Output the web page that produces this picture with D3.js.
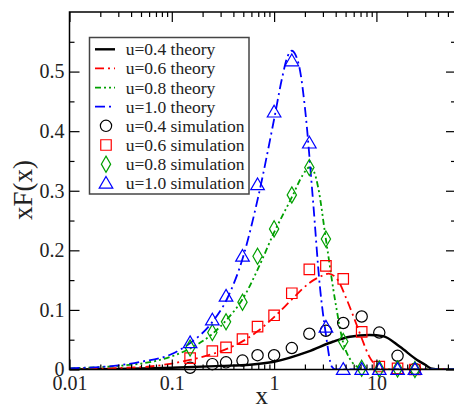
<!DOCTYPE html>
<html>
<head>
<meta charset="utf-8">
<script src="https://cdn.jsdelivr.net/npm/d3@7"></script>
<style>
  body { margin: 0; background: #fff; }
  svg { display: block; }
  text { font-family: "Liberation Serif", "Times New Roman", serif; fill: #222; }
</style>
</head>
<body>
<div id="container"><svg id="drawing_area" width="454" height="409"></svg></div>
<script>
// theory curves, [x, xF(x)]
var theory04 = [[0.01, 0.0], [0.1, 0.003], [0.3, 0.006], [0.58, 0.008], [1.0, 0.013], [2.15, 0.03], [3.8, 0.047], [5.5, 0.055], [8.6, 0.058], [11.6, 0.056], [17, 0.038], [25, 0.016], [30, 0.008], [34, 0.002], [45, 0.0], [60, 0.0]]
var theory06 = [[0.01, 0.001], [0.05, 0.004], [0.1, 0.01], [0.15, 0.016], [0.25, 0.026], [0.35, 0.035], [0.5, 0.048], [0.7, 0.065], [1.0, 0.088], [1.5, 0.118], [2.2, 0.145], [3.0, 0.158], [3.4, 0.161], [4.2, 0.15], [5.0, 0.122], [6.0, 0.088], [7.2, 0.052], [8.5, 0.022], [10, 0.006], [11.5, 0.001], [13, 0.0], [60, 0.0]]
var theory08 = [[0.01, 0.002], [0.05, 0.01], [0.1, 0.022], [0.15, 0.035], [0.25, 0.06], [0.35, 0.085], [0.5, 0.12], [0.7, 0.17], [1.0, 0.23], [1.5, 0.29], [1.9, 0.326], [2.2, 0.339], [2.45, 0.332], [2.7, 0.305], [3.2, 0.22], [4.0, 0.11], [4.7, 0.047], [5.5, 0.018], [7.0, 0.002], [8.0, 0.0], [60, 0.0]]
var theory10 = [[0.01, 0.002], [0.03, 0.007], [0.05, 0.013], [0.1, 0.026], [0.15, 0.044], [0.25, 0.08], [0.35, 0.12], [0.5, 0.19], [0.7, 0.29], [1.0, 0.42], [1.2, 0.49], [1.35, 0.525], [1.49, 0.535], [1.62, 0.528], [1.8, 0.5], [2.0, 0.44], [2.4, 0.284], [2.8, 0.14], [3.2, 0.06], [3.66, 0.005], [4.0, 0.0], [60, 0.0]]

// simulation points
var simX = [0.151, 0.249, 0.339, 0.491, 0.689, 1.0, 1.49, 2.21, 3.21, 4.74, 7.18, 10.67, 16.1, 23.8]
var sim04 = [0.003, 0.009, 0.012, 0.015, 0.024, 0.024, 0.036, 0.060, 0.065, 0.078, 0.089, 0.062, 0.023, 0.001]
var sim06 = [0.019, 0.031, 0.037, 0.051, 0.072, 0.091, 0.128, 0.168, 0.174, 0.152, 0.063, 0.005, 0.002, 0.0]
var sim08 = [0.036, 0.062, 0.080, 0.113, 0.19, 0.236, 0.293, 0.339, 0.219, 0.047, 0.002, 0.001, 0.001, 0.0]
var sim10 = [0.045, 0.083, 0.123, 0.19, 0.31, 0.432, 0.518, 0.38, 0.071, 0.0, 0.0, 0.0, 0.0, 0.0]

var yTicks = [0, 0.1, 0.2, 0.3, 0.4, 0.5]
var yMinor = [0.05, 0.15, 0.25, 0.35, 0.45, 0.55]
var xMajor = [0.01, 0.1, 1, 10]
var xTickLabels = ["0.01", "0.1", "1", "10"]

var legendNames = ["u=0.4 theory", "u=0.6 theory", "u=0.8 theory", "u=1.0 theory",
    "u=0.4 simulation", "u=0.6 simulation", "u=0.8 simulation", "u=1.0 simulation"]

function draw() {
    var svg = d3.select("#drawing_area")
    var left = 69.5, top = 12, bottom = 369.5, decade = 102.3
    var serif = '"Liberation Serif", "Times New Roman", serif'

    var x = d3.scaleLog().domain([0.01, 60]).range([left, left + Math.log10(6000) * decade])
    var y = d3.scaleLinear().domain([0, 0.6]).range([bottom, top])
    var right = x.range()[1]

    // minor ticks on log axis: 2..9 in each decade
    var xMinor = []
    for (var d = 0.01; d < 60; d *= 10) {
        for (var k = 2; k <= 9; k++) {
            if (k * d <= 60) xMinor.push(k * d)
        }
    }

    var styles = [
        {color: "#000000", dash: null, width: 2.4, data: theory04, sim: sim04, sym: "circle"},
        {color: "#ff0000", dash: "9,4,2,4", width: 1.8, data: theory06, sim: sim06, sym: "square"},
        {color: "#00a000", dash: "6,3,2,3,2,3", width: 1.8, data: theory08, sim: sim08, sym: "diamond"},
        {color: "#0000ff", dash: "10,4,2,4", width: 1.8, data: theory10, sim: sim10, sym: "triangle"}
    ]

    var symbolPath = {
        circle: d3.symbol().type(d3.symbolCircle).size(100),
        square: d3.symbol().type(d3.symbolSquare).size(110),
        diamond: d3.symbol().type(d3.symbolDiamond).size(75),
        triangle: d3.symbol().type(d3.symbolTriangle).size(80)
    }

    var plot = svg.append("g")
    plot.append("clipPath").attr("id", "clip")
        .append("rect").attr("x", left).attr("y", top)
        .attr("width", right - left).attr("height", bottom - top)

    // theory lines
    var line = d3.line()
        .x(function(p) { return x(p[0]) })
        .y(function(p) { return y(p[1]) })
        .curve(d3.curveMonotoneX)

    styles.forEach(function(s) {
        plot.append("path")
            .attr("d", line(s.data))
            .attr("fill", "none")
            .attr("stroke", s.color)
            .attr("stroke-width", s.width)
            .attr("stroke-dasharray", s.dash)
            .attr("clip-path", "url(#clip)")
    })

    // simulation symbols
    styles.forEach(function(s) {
        for (var i = 0; i < simX.length; i++) {
            plot.append("path")
                .attr("d", symbolPath[s.sym]())
                .attr("transform", "translate(" + x(simX[i]) + "," + (y(s.sim[i]) + (s.sym == "triangle" ? 1 : 0)) + ")")
                .attr("fill", "none")
                .attr("stroke", s.color)
                .attr("stroke-width", 1.2)
        }
    })

    // axes: ticks point into the frame
    function axisGroup(axis, tx, ty) {
        var g = svg.append("g").attr("transform", "translate(" + tx + "," + ty + ")").call(axis)
        g.select(".domain").remove()
        g.selectAll("line").attr("stroke", "#000").attr("stroke-width", 1.2)
        return g
    }
    axisGroup(d3.axisBottom(x).tickValues(xMinor).tickSize(-5).tickFormat(""), 0, bottom)
    axisGroup(d3.axisTop(x).tickValues(xMinor).tickSize(-5).tickFormat(""), 0, top)
    axisGroup(d3.axisTop(x).tickValues(xMajor).tickSize(-10).tickFormat(""), 0, top)
    var xb = axisGroup(d3.axisBottom(x).tickValues(xMajor).tickSize(-10)
        .tickFormat(function(d, i) { return xTickLabels[i] }), 0, bottom)
    xb.selectAll("text").attr("y", 6).attr("dy", "0.71em")
        .style("font-size", "20px").style("font-family", serif).attr("fill", "#222")

    axisGroup(d3.axisLeft(y).tickValues(yMinor).tickSize(-5).tickFormat(""), left, 0)
    axisGroup(d3.axisRight(y).tickValues(yMinor).tickSize(-5).tickFormat(""), right, 0)
    axisGroup(d3.axisRight(y).tickValues(yTicks).tickSize(-10).tickFormat(""), right, 0)
    var yl = axisGroup(d3.axisLeft(y).tickValues(yTicks).tickSize(-10)
        .tickFormat(function(d) { return d == 0 ? "0" : d3.format(".1f")(d) }), left, 0)
    yl.selectAll("text").attr("x", -5)
        .style("font-size", "20px").style("font-family", serif).attr("fill", "#222")

    // frame
    svg.append("rect").attr("x", left).attr("y", top)
        .attr("width", right - left).attr("height", bottom - top)
        .attr("fill", "none").attr("stroke", "#000").attr("stroke-width", 1.5)

    // axis titles
    svg.append("text").attr("x", (left + right) / 2 - 1).attr("y", 404)
        .attr("text-anchor", "middle").style("font-size", "25px").text("x")
    svg.append("text").attr("transform", "translate(32,190) rotate(-90)")
        .attr("text-anchor", "middle").style("font-size", "27px").text("xF(x)")

    // legend
    var lg = svg.append("g")
    lg.append("rect").attr("x", 89.5).attr("y", 37.5).attr("width", 159.5).attr("height", 156.5)
        .attr("fill", "#fff").attr("stroke", "#444").attr("stroke-width", 1.5)
    for (var i = 0; i < legendNames.length; i++) {
        var cy = 49.3 + i * 19.14
        var s = styles[i % 4]
        if (i < 4) {
            lg.append("line").attr("x1", 95).attr("x2", 115).attr("y1", cy).attr("y2", cy)
                .attr("stroke", s.color).attr("stroke-width", s.width)
                .attr("stroke-dasharray", s.dash)
        } else {
            lg.append("path").attr("d", symbolPath[s.sym]())
                .attr("transform", "translate(106," + (cy + (s.sym == "triangle" ? 1 : 0)) + ")")
                .attr("fill", "none").attr("stroke", s.color).attr("stroke-width", 1.2)
        }
        lg.append("text").attr("x", 125.7).attr("y", cy + 6)
            .style("font-size", "17.5px").text(legendNames[i])
    }
}

draw()
</script>
</body>
</html>
